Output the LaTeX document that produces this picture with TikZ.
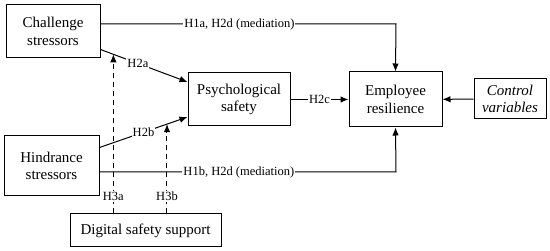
\documentclass[tikz,border=0pt]{standalone}
\usepackage{fontspec}
\setmainfont{Liberation Serif}
\usetikzlibrary{arrows.meta}
\begin{document}
\begin{tikzpicture}[x=1pt,y=-1pt,
  box/.style={draw,line width=1pt,inner sep=0pt,align=center,font=\fontsize{15}{17.5}\selectfont},
  lbl/.style={fill=white,inner sep=1pt,font=\fontsize{12.5}{14}\selectfont},
  conn/.style={line width=1pt,-{Latex[length=8pt,width=6.5pt]}},
  dsh/.style={conn,dash pattern=on 5.5pt off 3.5pt}]
\useasboundingbox (0,0) rectangle (550,251);
\node[box,minimum width=94pt,minimum height=53pt] (ch) at (53,31.5) {Challenge\\stressors};
\node[box,minimum width=102pt,minimum height=53pt] (ps) at (239,99.5) {Psychological\\safety};
\node[box,minimum width=93pt,minimum height=55pt] (er) at (395.5,99.5) {Employee\\resilience};
\node[box,minimum width=72pt,minimum height=40pt] (cv) at (510,99) {\itshape Control\\\itshape variables};
\node[box,minimum width=95pt,minimum height=60pt] (hd) at (51.5,166) {Hindrance\\stressors};
\node[box,minimum width=151pt,minimum height=33pt] (dg) at (145.5,230.5) {Digital safety support};
\coordinate (t1) at (396,24);
\coordinate (t2) at (396,172);
\draw[conn] (ch.east |- t1) -- node[lbl,pos=0.47]{H1a, H2d (mediation)} (t1) -- (er.north);
\draw[conn] (hd.east |- t2) -- node[lbl,pos=0.47]{H1b, H2d (mediation)} (t2) -- (er.south);
\draw[conn] ([yshift=9pt]ch.south east) -- node[lbl,pos=0.43]{H2a} coordinate[pos=0.148] (a3) ([yshift=17.5pt]ps.west);
\draw[conn] ([yshift=-12pt]hd.north east) -- node[lbl,pos=0.5]{H2b} coordinate[pos=0.767] (b3) ([yshift=-17.5pt]ps.west);
\draw[conn] (ps) -- node[lbl]{H2c} (er);
\draw[conn] (cv) -- (er);
\draw[dsh] (a3 |- dg.north) -- node[lbl,pos=0.107]{H3a} (a3);
\draw[dsh] (b3 |- dg.north) -- node[lbl,pos=0.19]{H3b} (b3);
\end{tikzpicture}
\end{document}
